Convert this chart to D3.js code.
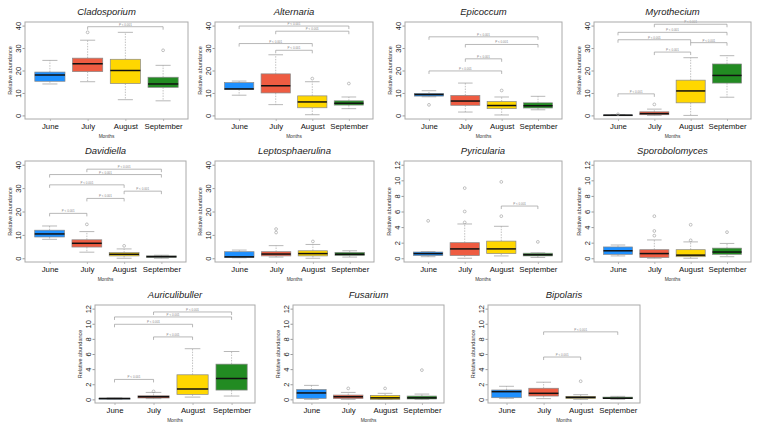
<!DOCTYPE html>
<html>
<head>
<meta charset="utf-8">
<script src="https://cdn.jsdelivr.net/npm/d3@7"></script>
<style>
  body { margin: 0; background: #fff; }
  svg { display: block; font-family: "Liberation Sans", Arial, sans-serif; }
</style>
</head>
<body>
<svg id="chart" width="761" height="425"></svg>
<script>
// categories and colours
const months = ["June", "July", "August", "September"];
const monthColors = ["#1E90FF", "#EE5C42", "#FFD700", "#228B22"];
const yTicks40 = [0, 10, 20, 30, 40];
const yTicks12 = [0, 2, 4, 6, 8, 10, 12];

// [lower whisker, Q1, median, Q3, upper whisker] per month
const cladosporiumBoxes = [[14, 15.2, 18, 19.3, 24.5], [15, 19.5, 23, 25.5, 33.5], [7, 14.2, 20, 25, 37], [6.5, 12.5, 14, 17, 22.3]];
const cladosporiumOut = [[], [37], [], [29]];
const cladosporiumBr = [[2, 4, 39.5]];

const alternariaBoxes = [[9, 11.6, 11.8, 14.6, 15.3], [4.8, 10, 13.2, 18.5, 27], [0.3, 3.4, 6, 8.7, 15], [3, 4.6, 5.4, 6.5, 8.2]];
const alternariaOut = [[], [], [16.4], [14.2]];
const alternariaBr = [[1, 4, 39.8], [2, 4, 37.5], [1, 3, 32], [2, 3, 29]];

const epicoccumBoxes = [[8.3, 8.6, 9.3, 9.8, 11], [1.5, 4.5, 6.4, 8.9, 14.4], [0.2, 3, 4.4, 6.2, 8.2], [2.5, 3.3, 4.3, 5.6, 8.5]];
const epicoccumOut = [[4.7], [], [11.1], []];
const epicoccumBr = [[1, 4, 35], [2, 4, 31.6], [2, 3, 25.2], [1, 3, 19.8]];

const myrotheciumBoxes = [[0, 0.05, 0.1, 0.2, 0.3], [0, 0.3, 0.8, 1.6, 2.8], [0, 5.6, 10.9, 15.7, 25.7], [8.1, 14.4, 17.8, 22.9, 26.6]];
const myrotheciumOut = [[0.5], [4.9], [], []];
const myrotheciumBr = [[2, 4, 40.6], [1, 4, 37], [1, 3, 33.7], [3, 4, 32.4], [2, 3, 28.2], [1, 2, 9.6]];

const davidiellaBoxes = [[8.1, 9.1, 10.4, 12, 13.8], [2.6, 4.8, 6.4, 7.9, 11.4], [0, 1, 1.7, 2.4, 4], [0, 0.4, 0.7, 1, 1.3]];
const davidiellaOut = [[], [14.5], [5.3], []];
const davidiellaBr = [[2, 4, 38.1], [1, 4, 35.8], [1, 3, 31.4], [3, 4, 28.7], [2, 3, 25.6], [1, 2, 19.2]];

const leptosphaerulinaBoxes = [[0.2, 0.4, 0.6, 2.8, 3.5], [0.5, 1, 1.8, 2.8, 5.4], [0, 1, 2, 3.2, 5.9], [0.5, 1.2, 1.7, 2.5, 3.2]];
const leptosphaerulinaOut = [[], [11, 12.5], [7.2], []];
const leptosphaerulinaBr = [];

const pyriculariaBoxes = [[0.2, 0.35, 0.6, 0.8, 0.85], [0, 0.35, 1.2, 2, 4.4], [0.3, 0.6, 1.2, 2.2, 4.1], [0.1, 0.3, 0.45, 0.65, 0.7]];
const pyriculariaOut = [[4.8], [4.6, 6, 9], [5.4, 9.8], [2.1]];
const pyriculariaBr = [[3, 4, 6.7]];

const sporobolomycesBoxes = [[0.3, 0.5, 0.96, 1.45, 1.7], [0, 0.1, 0.6, 1.1, 2.35], [0, 0.2, 0.4, 1.1, 2.1], [0.2, 0.5, 0.8, 1.3, 1.9]];
const sporobolomycesOut = [[], [2.9, 3.5, 5.4], [2.3, 4.3], [3.35]];
const sporobolomycesBr = [];

const auriculibullerBoxes = [[0, 0.03, 0.1, 0.15, 0.2], [0.1, 0.18, 0.35, 0.48, 0.92], [0.3, 0.66, 1.36, 3.25, 6.7], [0.44, 1.23, 2.77, 4.66, 6.33]];
const auriculibullerOut = [[], [1.05], [], []];
const auriculibullerBr = [[2, 4, 11.56], [1, 4, 10.9], [1, 3, 9.93], [2, 3, 8.26], [1, 2, 2.64]];

const fusariumBoxes = [[0, 0.13, 0.85, 1.3, 1.85], [0, 0.1, 0.35, 0.57, 0.92], [0, 0, 0.2, 0.53, 0.8], [0, 0.05, 0.2, 0.44, 0.7]];
const fusariumOut = [[], [1.45], [1.45], [3.87]];
const fusariumBr = [];

const bipolarisBoxes = [[0.13, 0.22, 1.02, 1.24, 1.73], [0.1, 0.44, 0.8, 1.47, 2.27], [0, 0.1, 0.27, 0.4, 0.62], [0, 0.1, 0.15, 0.3, 0.4]];
const bipolarisOut = [[], [], [2.4], []];
const bipolarisBr = [[2, 4, 8.93], [2, 3, 5.6]];

// panel layout (plot box in pixels)
const rowTop = [22, 161, 305];
const rowBottom = [119, 262, 403];
const panels = [
  { name: "Cladosporium", boxes: cladosporiumBoxes, out: cladosporiumOut, br: cladosporiumBr, ymax: 40, row: 0, x0: 25, x1: 188 },
  { name: "Alternaria", boxes: alternariaBoxes, out: alternariaOut, br: alternariaBr, ymax: 40, row: 0, x0: 215, x1: 373 },
  { name: "Epicoccum", boxes: epicoccumBoxes, out: epicoccumOut, br: epicoccumBr, ymax: 40, row: 0, x0: 405, x1: 562 },
  { name: "Myrothecium", boxes: myrotheciumBoxes, out: myrotheciumOut, br: myrotheciumBr, ymax: 40, row: 0, x0: 594, x1: 751 },
  { name: "Davidiella", boxes: davidiellaBoxes, out: davidiellaOut, br: davidiellaBr, ymax: 40, row: 1, x0: 25, x1: 186 },
  { name: "Leptosphaerulina", boxes: leptosphaerulinaBoxes, out: leptosphaerulinaOut, br: leptosphaerulinaBr, ymax: 40, row: 1, x0: 215, x1: 374 },
  { name: "Pyricularia", boxes: pyriculariaBoxes, out: pyriculariaOut, br: pyriculariaBr, ymax: 12, row: 1, x0: 404, x1: 562 },
  { name: "Sporobolomyces", boxes: sporobolomycesBoxes, out: sporobolomycesOut, br: sporobolomycesBr, ymax: 12, row: 1, x0: 594, x1: 751 },
  { name: "Auriculibuller", boxes: auriculibullerBoxes, out: auriculibullerOut, br: auriculibullerBr, ymax: 12, row: 2, x0: 95, x1: 255 },
  { name: "Fusarium", boxes: fusariumBoxes, out: fusariumOut, br: fusariumBr, ymax: 12, row: 2, x0: 293, x1: 444 },
  { name: "Bipolaris", boxes: bipolarisBoxes, out: bipolarisOut, br: bipolarisBr, ymax: 12, row: 2, x0: 488, x1: 640 }
];

const svg = d3.select("#chart");

function drawPanel(p) {
  const top = rowTop[p.row], bottom = rowBottom[p.row];
  const g = svg.append("g");
  const xdom = p.row === 2 ? [0.5, 4.6] : [0.34, 4.66];
  const x = d3.scaleLinear().domain(xdom).range([p.x0, p.x1]);
  const ext = p.ymax * 0.04;
  const y = d3.scaleLinear().domain([-ext, p.ymax + ext]).range([bottom, top]);
  const half = x(1.4) - x(1);
  const cap = x(1.2) - x(1);

  // title
  g.append("text")
    .attr("x", (p.x0 + p.x1) / 2).attr("y", top - 7)
    .attr("text-anchor", "middle")
    .attr("font-size", 9.5).attr("font-style", "italic")
    .attr("fill", "#222")
    .text(p.name);

  // y axis
  const ticks = p.ymax === 40 ? yTicks40 : yTicks12;
  const ya = g.append("g").attr("transform", "translate(" + p.x0 + ",0)")
    .call(d3.axisLeft(y).tickValues(ticks).tickSize(2.5).tickFormat(d3.format("d")));
  ya.select(".domain").remove();
  ya.selectAll("line").attr("stroke", "#555").attr("stroke-width", 0.6);
  ya.selectAll("text")
    .attr("x", 0).attr("dy", 0)
    .attr("transform", "translate(-3.6,0) rotate(-90)")
    .attr("text-anchor", "middle")
    .attr("font-size", 7.5).attr("fill", "#222")
    .attr("font-family", "Liberation Sans, Arial, sans-serif");

  g.append("text")
    .attr("transform", "translate(" + (p.x0 - 13) + "," + ((top + bottom) / 2) + ") rotate(-90)")
    .attr("text-anchor", "middle")
    .attr("font-size", 5.5).attr("fill", "#333")
    .text("Relative abundance");

  // x axis
  const xa = g.append("g").attr("transform", "translate(0," + bottom + ")")
    .call(d3.axisBottom(x).tickValues([1, 2, 3, 4]).tickSize(2).tickFormat(i => months[i - 1]));
  xa.select(".domain").remove();
  xa.selectAll("line").attr("stroke", "#777").attr("stroke-width", 0.5);
  xa.selectAll("text")
    .attr("y", 4).attr("dy", "0.71em")
    .attr("font-size", 7.8).attr("fill", "#111")
    .attr("font-family", "Liberation Sans, Arial, sans-serif");

  g.append("text")
    .attr("x", (p.x0 + p.x1) / 2).attr("y", bottom + 19)
    .attr("text-anchor", "middle")
    .attr("font-size", 4.8).attr("fill", "#333")
    .text("Months");

  // boxes
  p.boxes.forEach(function(b, i) {
    const cx = x(i + 1);
    const col = monthColors[i];
    g.append("line").attr("x1", cx).attr("x2", cx).attr("y1", y(b[3])).attr("y2", y(b[4]))
      .attr("stroke", "#999").attr("stroke-width", 0.6).attr("stroke-dasharray", "1.5,1.2");
    g.append("line").attr("x1", cx).attr("x2", cx).attr("y1", y(b[1])).attr("y2", y(b[0]))
      .attr("stroke", "#999").attr("stroke-width", 0.6).attr("stroke-dasharray", "1.5,1.2");
    [b[0], b[4]].forEach(function(v) {
      g.append("line").attr("x1", cx - cap).attr("x2", cx + cap).attr("y1", y(v)).attr("y2", y(v))
        .attr("stroke", "#999").attr("stroke-width", 0.7);
    });
    g.append("rect")
      .attr("x", cx - half).attr("width", 2 * half)
      .attr("y", y(b[3])).attr("height", Math.max(0.8, y(b[1]) - y(b[3])))
      .attr("fill", col).attr("stroke", "#888").attr("stroke-width", 0.7);
    g.append("line").attr("x1", cx - half).attr("x2", cx + half).attr("y1", y(b[2])).attr("y2", y(b[2]))
      .attr("stroke", "#111").attr("stroke-width", 1.5);
    p.out[i].forEach(function(v) {
      g.append("circle").attr("cx", cx).attr("cy", y(v)).attr("r", 1.4)
        .attr("fill", "none").attr("stroke", "#999").attr("stroke-width", 0.6);
    });
  });

  // significance brackets
  p.br.forEach(function(r) {
    const yy = y(r[2]);
    g.append("path")
      .attr("d", "M" + x(r[0]) + "," + (yy + 3) + "V" + yy + "H" + x(r[1]) + "V" + (yy + 3))
      .attr("fill", "none").attr("stroke", "#999").attr("stroke-width", 0.7);
    g.append("text")
      .attr("x", (x(r[0]) + x(r[1])) / 2).attr("y", yy - 1)
      .attr("text-anchor", "middle")
      .attr("font-size", 3).attr("fill", "#888")
      .text("P < 0.001");
  });

  // frame
  g.append("rect")
    .attr("x", p.x0).attr("y", top)
    .attr("width", p.x1 - p.x0).attr("height", bottom - top)
    .attr("fill", "none").attr("stroke", "#aaa").attr("stroke-width", 1);
}

panels.forEach(drawPanel);
</script>
</body>
</html>
